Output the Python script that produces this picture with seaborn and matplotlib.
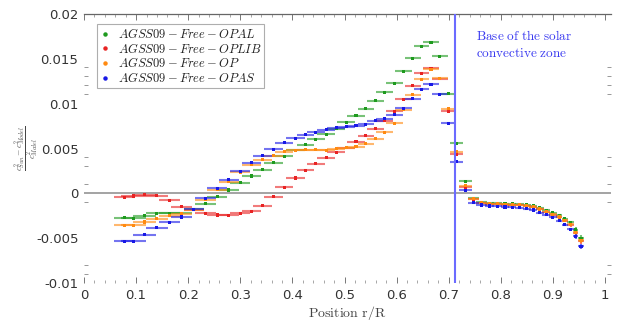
import numpy as np
import pandas as pd
import matplotlib
matplotlib.use('Agg')
import matplotlib.pyplot as plt
import seaborn as sns
from matplotlib.lines import Line2D

sns.set_style('white')
plt.rcParams['mathtext.fontset'] = 'cm'
plt.rcParams['font.family'] = ['DejaVu Sans']

# ---------------- data ----------------
radius = [0.077, 0.095, 0.116, 0.140, 0.164, 0.187, 0.211, 0.233, 0.256, 0.278,
          0.300, 0.322, 0.343, 0.364, 0.384, 0.406, 0.425, 0.445, 0.465, 0.484,
          0.503, 0.522, 0.541, 0.559, 0.577, 0.596, 0.613, 0.631, 0.648, 0.666,
          0.683, 0.699, 0.715, 0.732,
          0.748, 0.763, 0.778, 0.793, 0.808, 0.822, 0.836, 0.850, 0.862, 0.875,
          0.887, 0.900, 0.912, 0.923, 0.934, 0.944, 0.954]

radius_err = [0.020, 0.024, 0.022, 0.021, 0.021, 0.020, 0.020, 0.020, 0.019, 0.019,
              0.019, 0.018, 0.018, 0.018, 0.018, 0.018, 0.017, 0.017, 0.017, 0.017,
              0.017, 0.017, 0.016, 0.016, 0.016, 0.016, 0.016, 0.015, 0.015, 0.015,
              0.015, 0.014, 0.012, 0.012,
              0.011, 0.010, 0.009, 0.009, 0.008, 0.008, 0.008, 0.008, 0.007, 0.007,
              0.007, 0.007, 0.006, 0.006, 0.006, 0.005, 0.005]

value_err = [0.0001] * 34 + [0.00008, 0.00008, 0.00008, 0.00008, 0.00008, 0.00008,
                             0.00008, 0.00008, 0.0001, 0.0001, 0.0001, 0.00012,
                             0.00014, 0.00016, 0.0002, 0.00025, 0.0003]

opal = [-0.00272, -0.00280, -0.00250, -0.00224, -0.00224, -0.00224, -0.00180, -0.00115,
        -0.00037, 0.00037, 0.00120, 0.00193, 0.00265, 0.00340, 0.00413, 0.00480,
        0.00544, 0.00603, 0.00659, 0.00720, 0.00793, 0.00868, 0.00946, 0.01035,
        0.01125, 0.01225, 0.01360, 0.01505, 0.01642, 0.01684, 0.01527, 0.01110,
        0.00559, 0.00136,
        -0.00055, -0.00100, -0.00112, -0.00112, -0.00115, -0.00118, -0.00120, -0.00127,
        -0.00140, -0.00160, -0.00190, -0.00218, -0.00245, -0.00283, -0.00325, -0.00405,
        -0.00500]

oplib = [-0.00043, -0.00030, -0.00015, -0.00026, -0.00078, -0.00149, -0.00182, -0.00220,
         -0.00242, -0.00245, -0.00220, -0.00200, -0.00138, -0.00040, 0.00070, 0.00171,
         0.00257, 0.00332, 0.00399, 0.00458, 0.00510, 0.00574, 0.00644, 0.00723,
         0.00812, 0.00916, 0.01047, 0.01199, 0.01337, 0.01393, 0.01280, 0.00916,
         0.00436, 0.00070,
         -0.00068, -0.00113, -0.00122, -0.00123, -0.00126, -0.00130, -0.00133, -0.00141,
         -0.00156, -0.00178, -0.00208, -0.00238, -0.00268, -0.00306, -0.00350, -0.00437,
         -0.00530]

op = [-0.00354, -0.00358, -0.00320, -0.00285, -0.00250, -0.00230, -0.00185, -0.00070,
      0.00040, 0.00130, 0.00235, 0.00320, 0.00376, 0.00417, 0.00466, 0.00480,
      0.00484, 0.00484, 0.00480, 0.00499, 0.00510, 0.00521, 0.00555, 0.00610,
      0.00682, 0.00782, 0.00930, 0.01100, 0.01274, 0.01385, 0.01282, 0.00942,
      0.00466, 0.00086,
      -0.00060, -0.00108, -0.00119, -0.00119, -0.00123, -0.00127, -0.00130, -0.00138,
      -0.00153, -0.00175, -0.00205, -0.00235, -0.00264, -0.00302, -0.00346, -0.00432,
      -0.00525]

opas = [-0.00536, -0.00533, -0.00462, -0.00384, -0.00324, -0.00264, -0.00179, -0.00056,
        0.00056, 0.00153, 0.00246, 0.00339, 0.00417, 0.00492, 0.00566, 0.00615,
        0.00652, 0.00682, 0.00711, 0.00730, 0.00745, 0.00752, 0.00771, 0.00808,
        0.00830, 0.00879, 0.00950, 0.01054, 0.01162, 0.01218, 0.01106, 0.00779,
        0.00354, 0.00034,
        -0.00104, -0.00130, -0.00141, -0.00145, -0.00153, -0.00156, -0.00160, -0.00171,
        -0.00186, -0.00216, -0.00238, -0.00268, -0.00305, -0.00350, -0.00402, -0.00480,
        -0.00592]

models = ['OPAL', 'OPLIB', 'OP', 'OPAS']
labels = [r'$AGSS09-Free-OPAL$', r'$AGSS09-Free-OPLIB$',
          r'$AGSS09-Free-OP$', r'$AGSS09-Free-OPAS$']
colors = ['#1e9a1e', '#e82323', '#ff8a10', '#1818e6']
series = [opal, oplib, op, opas]

bcz_radius = 0.713
xticks = [0, 0.1, 0.2, 0.3, 0.4, 0.5, 0.6, 0.7, 0.8, 0.9, 1]
xticklabels = ['0', '0.1', '0.2', '0.3', '0.4', '0.5', '0.6', '0.7', '0.8', '0.9', '1']
yticks = [-0.01, -0.005, 0, 0.005, 0.01, 0.015, 0.02]
yticklabels = ['-0.01', '-0.005', '0', '0.005', '0.01', '0.015', '0.02']
yminor = [0.0141, 0.0131, 0.0121, 0.0111, 0.0041, 0.0030, 0.0010, -0.0010, -0.0080, -0.0090]

# ---------------- figure ----------------
W, H = 623, 322
fig = plt.figure(figsize=(W / 100, H / 100), dpi=100)
L, R, T, B = 84, 611, 14, 283
ax = fig.add_axes([L / W, 1 - B / H, (R - L) / W, (B - T) / H])

rows = []
for m, s in zip(models, series):
    for x, y, xe, ye in zip(radius, s, radius_err, value_err):
        rows.append(dict(model=m, radius=x, value=y, xerr=xe, yerr=ye))
df = pd.DataFrame(rows)

ax.axhline(0, color='#8a8a8a', lw=1.1, zorder=1)

for i, (m, c) in enumerate(zip(models, colors)):
    d = df[df.model == m]
    ax.errorbar(d.radius, d.value, xerr=d.xerr, yerr=d.yerr, fmt='none',
                ecolor=c, elinewidth=1.5, alpha=0.6, capsize=0, zorder=2 + i)
sns.scatterplot(data=df, x='radius', y='value', hue='model', hue_order=models,
                palette=dict(zip(models, colors)), marker='s', s=5, linewidth=0,
                legend=False, ax=ax, zorder=10)

ax.axvline(bcz_radius, color='#6b6bff', lw=1.5, zorder=11)
ax.text(0.752, 0.0183, r'$\mathrm{Base\ of\ the\ solar}$' + '\n' +
        r'$\mathrm{convective\ zone}$', color='#3a3af0', fontsize=9.5,
        va='top', ha='left', linespacing=1.4)

ax.set_xlim(0, 1.0115)
ax.set_ylim(-0.01, 0.02)
ax.set_xticks(xticks)
ax.set_xticklabels(xticklabels)
ax.set_xticks(np.arange(0, 1.001, 0.02), minor=True)
ax.set_yticks(yticks)
ax.set_yticklabels(yticklabels)
ax.set_yticks(yminor, minor=True)

ax.tick_params(axis='x', which='major', direction='in', length=4, width=0.7,
               color='#777777', top=True, bottom=True, labelsize=9.5,
               labelcolor='#333333', pad=4)
ax.tick_params(axis='x', which='minor', direction='in', length=2, width=0.6,
               color='#999999', top=True, bottom=True)
ax.tick_params(axis='y', which='major', direction='in', length=0,
               labelsize=9.5, labelcolor='#333333', pad=4)
ax.tick_params(axis='y', which='minor', direction='in', length=3, width=0.6,
               color='#888888', left=True, right=True)

for side in ['left', 'right', 'bottom']:
    ax.spines[side].set_visible(False)
ax.spines['top'].set_color('#666666')
ax.spines['top'].set_linewidth(0.9)

ax.set_xlabel(r'$\mathrm{Position\ r/R}$', fontsize=10, color='#444444', labelpad=2)
ax.set_ylabel('')
fig.text(27 / W, 1 - 148 / H,
         r'$\frac{c^2_{Sun}-c^2_{Model}}{c^2_{Model}}$', rotation=90,
         fontsize=8.5, color='#444444', ha='center', va='center')

handles = [Line2D([], [], marker='o', ls='', color=c, markersize=2.2) for c in colors]
leg = ax.legend(handles, labels, loc='upper left',
                bbox_to_anchor=(97 / W, 1 - 24 / H), bbox_transform=fig.transFigure,
                fontsize=9, frameon=True, fancybox=False, edgecolor='#9a9a9a',
                handlelength=0.8, handletextpad=0.6, borderpad=0.25,
                labelspacing=0.05, borderaxespad=0)
leg.get_frame().set_linewidth(0.8)
for t in leg.get_texts():
    t.set_color('#222222')

fig.savefig('out.png', dpi=100)
